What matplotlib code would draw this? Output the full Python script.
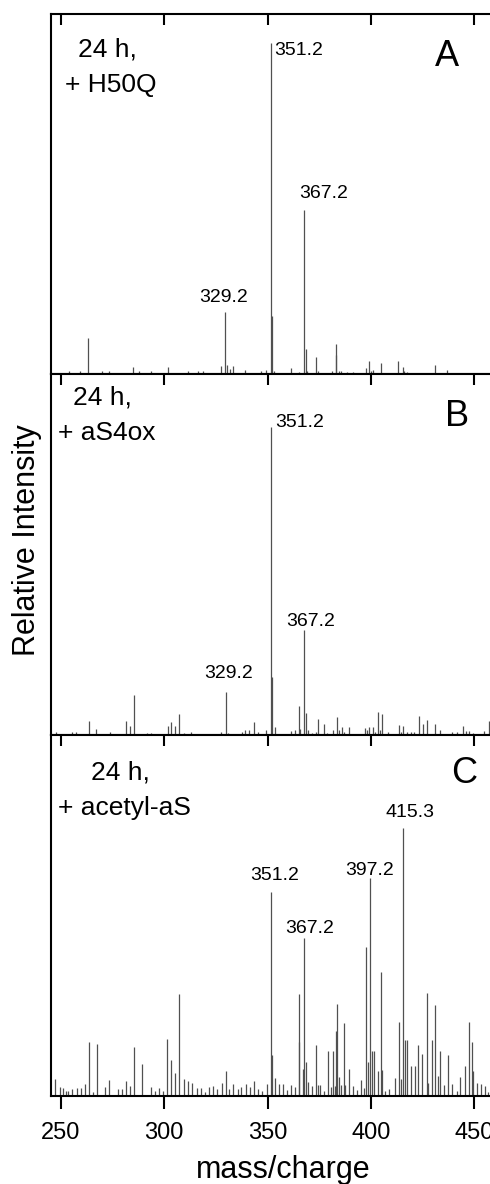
import numpy as np
import matplotlib
matplotlib.use('Agg')
import matplotlib.pyplot as plt

plt.rcParams['font.family'] = ['Liberation Sans', 'DejaVu Sans']

#------------------------[data]------------------------#
# panel A : 24 h, + H50Q
mz_a = [254.0, 259.4, 262.9, 270.0, 273.4, 285.0, 288.0, 293.4, 301.6, 311.3,
        316.2, 319.0, 327.4, 329.4, 330.5, 332.0, 333.1, 339.1, 346.8, 349.4,
        351.5, 352.3, 353.3, 361.2, 365.3, 367.5, 368.4, 369.2, 373.3, 374.2,
        381.2, 383.0, 383.2, 384.6, 385.5, 388.3, 391.2, 397.5, 399.2, 400.1,
        401.1, 404.9, 413.3, 415.4, 416.2, 417.3, 431.0, 437.0]
int_a = [0.8, 1.0, 11.0, 0.8, 0.8, 2.0, 0.8, 0.8, 2.0, 0.8,
         0.8, 0.8, 2.5, 18.6, 2.7, 1.5, 2.5, 1.3, 0.8, 1.3,
         100.0, 17.6, 1.0, 1.8, 0.5, 49.5, 7.6, 1.0, 5.2, 0.8,
         1.0, 9.0, 5.7, 0.8, 1.0, 0.7, 0.7, 1.8, 4.0, 1.0,
         1.3, 3.2, 4.0, 2.2, 1.0, 0.5, 2.6, 1.3]

# panel B : 24 h, + aS4ox
mz_b = [247.4, 255.2, 257.1, 263.4, 267.1, 273.6, 281.3, 283.2, 285.2, 291.5,
        293.5, 301.6, 303.2, 305.2, 307.3, 309.7, 313.2, 327.6, 329.7, 330.7,
        337.5, 339.1, 341.1, 343.3, 345.2, 349.5, 351.5, 352.3, 353.6, 361.3,
        363.3, 365.2, 365.7, 367.6, 368.4, 369.7, 371.3, 373.7, 374.5, 377.4,
        378.7, 381.5, 383.4, 384.6, 385.9, 387.1, 389.4, 397.1, 398.0, 399.2,
        401.2, 402.0, 403.6, 404.4, 405.2, 408.4, 413.6, 414.6, 415.5, 417.5,
        419.4, 421.0, 423.1, 425.2, 427.0, 431.3, 433.3, 439.4, 441.5, 444.6,
        446.0, 447.5, 449.4, 454.9, 457.2]
int_b = [1.0, 1.0, 1.0, 4.4, 2.0, 1.0, 4.4, 3.0, 13.0, 0.8,
         0.8, 3.0, 4.1, 3.0, 6.9, 0.8, 1.0, 1.0, 14.0, 0.8,
         1.0, 1.5, 1.5, 4.1, 1.0, 1.5, 100.0, 18.7, 2.7, 1.3,
         1.5, 9.3, 2.0, 34.0, 7.0, 1.5, 0.5, 1.0, 5.3, 3.6,
         0.8, 1.5, 5.7, 1.5, 2.5, 1.0, 2.7, 2.2, 1.5, 2.7,
         2.7, 1.0, 7.6, 1.5, 6.7, 1.0, 3.3, 1.0, 3.0, 1.0,
         1.0, 1.0, 6.3, 3.6, 5.0, 3.6, 1.5, 1.0, 1.0, 3.0,
         1.2, 1.2, 0.8, 1.2, 4.4]

# panel C : 24 h, + acetyl-aS
mz_c = [247.1, 249.5, 251.1, 252.3, 253.5, 255.2, 257.6, 259.5, 261.6, 263.4,
        265.3, 267.3, 271.4, 273.4, 277.4, 279.4, 281.3, 283.4, 285.2, 289.2,
        293.6, 295.5, 297.4, 299.5, 301.5, 303.2, 305.2, 307.3, 309.7, 311.6,
        313.4, 315.7, 317.6, 319.7, 321.6, 323.4, 325.5, 327.8, 329.7, 331.3,
        333.2, 335.5, 337.4, 339.5, 341.3, 343.3, 345.2, 347.1, 349.6, 351.5,
        352.3, 353.6, 355.5, 357.3, 359.4, 361.3, 363.3, 365.0, 365.3, 367.4,
        367.6, 368.4, 369.4, 371.5, 373.4, 374.5, 375.5, 377.4, 379.4, 380.5,
        381.5, 382.6, 383.1, 383.6, 384.6, 385.5, 387.0, 387.5, 389.4, 391.2,
        393.4, 395.3, 396.8, 397.5, 398.4, 399.6, 400.7, 401.5, 403.6, 405.0,
        405.5, 407.1, 409.0, 411.5, 413.4, 414.6, 415.7, 416.5, 417.5, 419.3,
        421.3, 423.0, 424.9, 427.0, 427.6, 429.4, 431.3, 432.3, 433.3, 435.2,
        437.3, 439.2, 441.5, 443.4, 445.4, 447.4, 449.0, 449.6, 451.5, 453.3,
        455.3, 456.9]
int_c = [6.3, 3.5, 2.9, 2.0, 2.0, 2.5, 3.1, 2.9, 4.5, 20.0,
         1.6, 19.5, 3.3, 6.0, 2.7, 2.7, 5.6, 3.9, 18.3, 11.8,
         3.2, 1.9, 3.1, 1.9, 21.4, 13.3, 8.4, 38.0, 6.2, 5.7,
         5.0, 3.1, 2.9, 1.6, 3.3, 3.9, 2.7, 5.0, 9.4, 2.5,
         4.6, 2.5, 3.5, 4.6, 3.5, 5.6, 2.5, 2.0, 4.5, 76.0,
         15.3, 6.8, 4.5, 4.5, 2.2, 4.2, 3.4, 38.0, 20.0, 10.0,
         58.8, 12.8, 5.1, 3.6, 19.0, 4.1, 4.2, 1.9, 16.8, 3.5,
         16.8, 3.6, 24.4, 34.2, 7.2, 4.0, 27.4, 4.2, 10.0, 3.7,
         2.3, 6.1, 3.0, 55.7, 12.8, 81.2, 16.6, 16.6, 9.3, 46.4,
         9.7, 2.0, 2.7, 6.8, 27.7, 6.3, 100.0, 20.9, 20.7, 11.0,
         11.3, 19.0, 15.7, 38.5, 5.0, 20.7, 34.0, 7.4, 16.7, 4.2,
         15.3, 4.4, 2.0, 7.0, 11.0, 27.7, 20.0, 9.3, 5.0, 4.6,
         3.6, 1.6]

# peak labels: (text, m/z, intensity)
labels_a = [('351.2', 351.5, 100.0), ('367.2', 367.5, 49.5), ('329.2', 329.4, 18.6)]
labels_b = [('351.2', 351.5, 100.0), ('367.2', 367.6, 34.0), ('329.2', 329.7, 14.0)]
labels_c = [('351.2', 351.5, 76.0), ('367.2', 367.6, 58.8),
            ('397.2', 399.6, 81.2), ('415.3', 415.7, 100.0)]

cond_a = ['24 h,', '+ H50Q']
cond_b = ['24 h,', '+ aS4ox']
cond_c = ['24 h,', '+ acetyl-aS']

#------------------------[figure]------------------------#
W, H = 490, 1184
fig = plt.figure(figsize=(W / 100, H / 100), dpi=100)

x0, x1 = 245.2, 460.0
left_px, ppu = 51, 2.066
width = (x1 - x0) * ppu / W


def make_ax(top_px, bot_px, ytop):
    ax = fig.add_axes([left_px / W, 1 - bot_px / H, width, (bot_px - top_px) / H])
    ax.set_xlim(x0, x1)
    ax.set_ylim(0, ytop)
    ax.set_yticks([])
    ax.spines['right'].set_visible(False)
    for s in ['left', 'top', 'bottom']:
        ax.spines[s].set_linewidth(1.5)
    ax.set_xticks([250, 300, 350, 400, 450])
    ax.tick_params(axis='x', which='major', bottom=True, top=True,
                   direction='out', length=9, width=1.5, labelsize=17,
                   labelbottom=False, pad=10)
    # top ticks point inward
    for t in ax.xaxis.get_major_ticks():
        t.tick2line.set_marker(3)
        t.tick2line.set_markersize(8)
    return ax


ax_a = make_ax(14, 374, 108.8)
ax_b = make_ax(374, 735, 117.1)
ax_c = make_ax(735, 1096, 134.6)
ax_c.tick_params(axis='x', labelbottom=True)

lc = '#505050'
ax_a.vlines(mz_a, 0, int_a, color=lc, lw=0.9)
ax_b.vlines(mz_b, 0, int_b, color=lc, lw=0.9)
ax_c.vlines(mz_c, 0, int_c, color=lc, lw=0.9)


def put_labels(ax, labels, offsets):
    for (txt, x, y), (dx, dy, ha) in zip(labels, offsets):
        ax.annotate(txt, (x, y), xytext=(dx, dy), textcoords='offset pixels',
                    ha=ha, va='center', fontsize=14)


put_labels(ax_a, labels_a, [(4, -7, 'left'), (20, 17, 'center'), (-1, 15, 'center')])
put_labels(ax_b, labels_b, [(5, 4, 'left'), (7, 9, 'center'), (3, 18, 'center')])
put_labels(ax_c, labels_c, [(4, 17, 'center'), (6, 10, 'center'),
                            (0, 8, 'center'), (7, 15, 'center')])


def put_cond(ax, cond, p1, p2, letter, pl):
    ax.text(p1[0], p1[1], cond[0], transform=ax.transAxes, fontsize=19,
            ha='left', va='center')
    ax.text(p2[0], p2[1], cond[1], transform=ax.transAxes, fontsize=19,
            ha='left', va='center')
    ax.text(pl[0], pl[1], letter, transform=ax.transAxes, fontsize=26,
            ha='center', va='center')


put_cond(ax_a, cond_a, (0.061, 0.900), (0.031, 0.803), 'A', (0.892, 0.881))
put_cond(ax_b, cond_b, (0.050, 0.934), (0.016, 0.837), 'B', (0.915, 0.882))
put_cond(ax_c, cond_c, (0.090, 0.895), (0.016, 0.798), 'C', (0.931, 0.892))

fig.text(283 / W, 1 - 1170 / H, 'mass/charge', fontsize=22, ha='center', va='center')
fig.text(27 / W, 1 - 540 / H, 'Relative Intensity', fontsize=22, rotation=90,
         ha='center', va='center')

fig.savefig('out.png', dpi=100)
